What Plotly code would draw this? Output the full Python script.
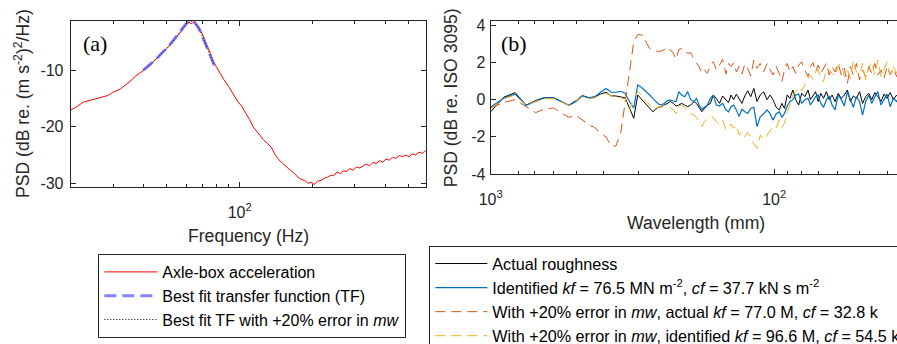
import plotly.graph_objects as go

# ---------------- Panel (a) data ----------------
freq_hz = [20, 21, 22.5, 24, 25.5, 27, 28.5, 30, 32, 34,
           35.5, 37, 38.5, 40, 42, 44, 46, 48, 50, 52,
           54, 56, 58, 60, 61.5, 63, 64.5, 66, 68, 70,
           72, 74, 76, 78, 80, 83, 86, 90, 94, 98,
           102, 106, 110, 114, 118, 122, 126, 130, 135, 140,
           145, 150, 156, 162, 168, 174, 180, 186, 192, 198,
           204, 210, 217, 224, 231, 238, 245, 253, 261, 269,
           277, 286, 295, 304, 314, 324, 334, 345, 356, 367,
           379, 391, 403, 416, 429, 443, 457, 472, 487, 502,
           518, 535, 552, 570, 588]
axlebox_db = [-17.05, -16.6, -15.7, -15.35, -15.1, -14.85, -14.5, -13.9, -13.4, -12.5,
              -11.9, -11.1, -10.6, -10.1, -9.3, -8.5, -7.8, -7.0, -6.2, -5.4,
              -4.6, -3.8, -2.9, -2.0, -1.5, -1.85, -1.55, -1.9, -2.6, -3.6,
              -4.9, -6.1, -7.4, -8.5, -9.4, -10.6, -11.7, -12.9, -14.3, -15.5,
              -16.4, -17.5, -18.8, -20.1, -20.9, -21.7, -22.4, -22.9, -23.6, -24.9,
              -25.8, -26.4, -27.1, -27.7, -28.2, -28.9, -29.3, -29.5, -30.0, -29.8,
              -30.2, -29.6, -29.5, -29.1, -28.9, -28.6, -28.6, -28.0, -28.3, -27.8,
              -27.9, -27.4, -27.7, -27.1, -27.3, -26.9, -26.6, -26.9, -26.3, -26.5,
              -26.0, -26.3, -25.7, -25.9, -25.4, -25.6, -25.1, -25.3, -25.0, -25.3,
              -24.8, -25.0, -24.5, -24.7, -24.2]
fit_freq_hz = [40, 42, 44, 46, 48, 50, 52, 54, 56, 58, 60, 62, 63.5, 65, 67, 69, 71, 73, 75, 77, 78.5]
tf_fit_db = [-10.0, -9.3, -8.5, -7.7, -6.9, -6.1, -5.3, -4.4, -3.5, -2.6, -1.85,
             -1.4, -1.35, -1.55, -2.3, -3.3, -4.5, -5.8, -7.1, -8.3, -9.2]
tf_err_db = [-10.05, -9.35, -8.55, -7.75, -6.95, -6.15, -5.35, -4.45, -3.55, -2.65, -1.9,
             -1.45, -1.4, -1.6, -2.35, -3.35, -4.55, -5.85, -7.15, -8.35, -9.25]

# ---------------- Panel (b) data ----------------
wavelength_mm = [1000, 900, 820, 750, 695, 645, 600, 565, 530, 500, 475, 450, 430, 410, 392, 376, 362, 348, 336, 324, 313, 303,
                 296, 289, 282, 275, 268, 262, 256, 250, 244, 238,
                 232, 227, 222, 217, 212, 207, 202, 197, 192, 188,
                 184, 180, 176, 172, 168, 164, 160, 156, 152, 148,
                 145, 142, 139, 136, 133, 130, 127, 124, 121, 118,
                 115, 112, 109, 106, 103.5, 101, 98.5, 96, 94, 92,
                 90, 88, 86, 84, 82, 80, 78, 76, 74.5, 73,
                 71.5, 70, 68.5, 67, 65.5, 64, 62.5, 61, 59.5, 58,
                 56.6, 55.2, 53.9, 52.6, 51.3, 50, 48.8, 47.6, 46.4, 45.3,
                 44.2, 43.1, 42, 41, 40, 39, 38, 37, 36.2, 35.4]
actual_rough = [-0.65, 0.13, 0.38, -0.3, -0.05, 0.12, 0.1, -0.1, -0.3, -0.05, 0.22, 0.1, 0.15, 0.3, 0.4, 0.2, 0.2, 0.15, 0.1, -0.45, -1.0, 0.25,
                0.07, -0.1, -0.29, -0.47, -0.65, -0.52, -0.41, -0.38, -0.29, -0.2,
                -0.1, -0.2, -0.34, -0.29, -0.2, -0.29, -0.38, -0.29, -0.1, -0.2,
                -0.4, -0.65, -0.47, -0.29, -0.2, 0.25, 0.07, -0.2, 0.2, 0.02,
                -0.16, 0.25, 0.0, 0.3, 0.02, -0.2, 0.2, 0.48, 0.16, 0.6,
                -0.1, 0.25, 0.43, 0.0, 0.25, 0.0, -0.4, -0.55, -0.2, -0.47,
                0.25, 0.07, 0.52, 0.0, -0.29, 0.34, 0.16, 0.52, 0.0, 0.25,
                0.43, -0.1, 0.34, 0.07, 0.43, 0.0, 0.25, -0.1, 0.34, 0.07,
                0.25, 0.52, -0.1, 0.2, 0.07, 0.43, -0.2, 0.16, 0.34, 0.0,
                0.38, 0.16, -0.1, 0.3, 0.07, 0.38, 0.0, 0.25, 0.1, 0.2]
identified = [-0.4, 0.07, 0.3, -0.3, -0.1, 0.1, 0.1, -0.1, -0.3, -0.1, 0.2, 0.1, 0.15, 0.4, 0.6, 0.4, 0.4, 0.45, 0.35, -0.1, -0.45, 0.79,
              0.7, 0.56, 0.43, 0.25, 0.07, -0.1, -0.23, -0.29, -0.2, -0.05,
              -0.02, -0.07, -0.1, 0.43, 0.25, 0.16, 0.43, 0.0, -0.1, 0.07,
              -0.29, -0.52, -0.41, -0.29, 0.07, 0.25, -0.29, -0.34, -0.2, -0.55,
              -0.65, -0.38, -0.29, -0.55, -0.91, -0.52, -0.65, -0.74, -0.47, -0.41,
              -1.45, -0.91, -0.77, -0.55, -0.74, -1.1, -0.77, -0.65, -0.95, -0.74,
              -0.34, -0.1, 0.0, 0.25, 0.3, -0.2, 0.0, 0.07, -0.29, -0.1,
              0.16, 0.25, -0.2, -0.41, 0.0, 0.2, -0.29, -0.55, 0.25, 0.0,
              -0.34, 0.43, 0.0, -0.41, 0.16, -0.1, -0.83, -0.1, 0.25, -0.2,
              0.16, 0.43, -0.29, 0.0, 0.3, -0.38, 0.07, -0.1, 0.1, -0.2]
err_actual = [-0.45, -0.15, 0.0, -0.4, -0.7, -0.5, -0.45, -0.7, -0.95, -0.85, -1.1, -1.35, -1.5, -1.8, -2.0, -2.5, -2.5, -1.8, -0.2, 1.5, 3.1, 3.5,
              3.5, 3.45, 3.03, 2.76, 2.7, 2.64, 2.58, 2.62, 2.7, 2.85,
              2.67, 2.5, 2.17, 2.7, 2.76, 2.58, 2.5, 2.53, 2.17, 1.95,
              1.78, 1.42, 1.6, 1.42, 1.86, 2.04, 1.6, 1.86, 2.17, 1.38,
              1.95, 1.78, 1.99, 1.5, 1.78, 1.38, 1.92, 1.69, 1.27, 2.13,
              1.69, 1.95, 1.5, 1.95, 1.63, 1.33, 1.78, 1.42, 0.97, 1.6,
              1.95, 1.5, 1.78, 1.42, 1.86, 2.04, 1.6, 1.24, 1.78, 1.99,
              1.5, 1.86, 1.42, 1.69, 1.95, 1.33, 1.78, 1.5, 1.95, 1.33,
              1.69, 0.88, 1.78, 1.33, 1.95, 1.06, 1.6, 1.24, 1.78, 1.42,
              1.95, 1.33, 1.6, 1.15, 1.78, 1.33, 1.69, 1.24, 1.6, 1.3]
err_identified = [-0.5, 0.05, 0.25, -0.3, -0.1, 0.05, 0.05, -0.1, -0.3, -0.05, 0.15, 0.05, 0.1, 0.25, 0.35, 0.2, 0.15, 0.1, 0.05, -0.55, 0.07, 0.43,
                  0.3, 0.02, -0.1, -0.29, -0.52, -0.47, -0.41, -0.34, -0.29, -0.29,
                  -0.41, -0.55, -0.74, -0.34, -0.29, -0.41, -0.55, -0.74, -0.83, -0.95,
                  -1.18, -1.45, -1.18, -1.06, -0.91, -0.95, -1.18, -1.31, -1.09, -1.63,
                  -1.45, -1.31, -1.54, -1.36, -1.9, -1.72, -1.99, -1.77, -2.08, -2.39,
                  -2.62, -1.9, -2.17, -1.9, -1.72, -1.45, -1.54, -1.09, -1.49, -1.27,
                  -0.65, -0.29, 0.25, 0.43, 0.7, 0.48, 0.79, 1.15, 1.33, 1.09,
                  1.5, 1.6, 1.15, 0.97, 1.69, 1.6, 1.42, 1.24, 1.86, 1.95,
                  1.24, 1.6, 1.15, 2.13, 1.5, 1.33, 1.95, 1.06, 1.69, 2.04,
                  1.33, 2.13, 1.24, 1.6, 2.04, 1.33, 1.78, 1.42, 1.8, 1.5]

# tick labels
a_x_ticks = [100]
a_x_ticktext = ["10<sup>2</sup>"]
a_x_minor = [30, 40, 50, 60, 70, 80, 90, 200, 300, 400, 500]
a_y_ticks = [-30, -20, -10]
a_y_ticktext = ["-30", "-20", "-10"]
b_x_ticks = [1000, 100]
b_x_ticktext = ["10<sup>3</sup>", "10<sup>2</sup>"]
b_x_minor = [800, 700, 600, 500, 400, 300, 200, 90, 80, 70, 60, 50, 40]
b_y_ticks = [-4, -2, 0, 2, 4]
b_y_ticktext = ["-4", "-2", "0", "2", "4"]

W, H = 897, 344
def px(x): return x / W
def py(y): return 1 - y / H

SANS = "Liberation Sans, Arial, sans-serif"
SERIF = "Liberation Serif, Times New Roman, serif"
AXC = "#262626"

fig = go.Figure()
fig.add_trace(go.Scatter(x=freq_hz, y=axlebox_db, mode="lines", name="Axle-box acceleration",
                         line=dict(color="#FF0000", width=1), xaxis="x", yaxis="y", legend="legend"))
fig.add_trace(go.Scatter(x=fit_freq_hz, y=tf_fit_db, mode="lines", name="Best fit transfer function (TF)",
                         line=dict(color="rgba(110,110,255,0.85)", width=3, dash="12px,6px"), xaxis="x", yaxis="y", legend="legend"))
fig.add_trace(go.Scatter(x=fit_freq_hz, y=tf_err_db, mode="lines", name="Best fit TF with +20% error in <i>mw</i>",
                         line=dict(color="#000000", width=1, dash="1px,2px"), xaxis="x", yaxis="y", legend="legend"))

fig.add_trace(go.Scatter(x=wavelength_mm, y=actual_rough, mode="lines", name="Actual roughness",
                         line=dict(color="#000000", width=1), xaxis="x2", yaxis="y2", legend="legend2"))
fig.add_trace(go.Scatter(x=wavelength_mm, y=identified, mode="lines",
                         name="Identified <i>kf</i> = 76.5 MN m<sup>-2</sup>, <i>cf</i> = 37.7 kN s m<sup>-2</sup>",
                         line=dict(color="#0072BD", width=1.2), xaxis="x2", yaxis="y2", legend="legend2"))
fig.add_trace(go.Scatter(x=wavelength_mm, y=err_actual, mode="lines",
                         name="With +20% error in <i>mw</i>, actual <i>kf</i> = 77.0 M, <i>cf</i> = 32.8 k",
                         line=dict(color="#D95319", width=1, dash="10px,6px"), xaxis="x2", yaxis="y2", legend="legend2"))
fig.add_trace(go.Scatter(x=wavelength_mm, y=err_identified, mode="lines",
                         name="With +20% error in <i>mw</i>, identified <i>kf</i> = 96.6 M, <i>cf</i> = 54.5 k",
                         line=dict(color="#EDB120", width=1, dash="10px,6px"), xaxis="x2", yaxis="y2", legend="legend2"))

tickfont = dict(family=SANS, size=16, color=AXC)
common = dict(showline=True, linecolor=AXC, linewidth=1, ticks="inside", ticklen=5, tickcolor=AXC,
              tickwidth=1, showgrid=False, zeroline=False, tickfont=tickfont)

fig.update_layout(
    width=W, height=H,
    margin=dict(l=0, r=0, t=0, b=0, autoexpand=False),
    paper_bgcolor="white", plot_bgcolor="white",
    xaxis=dict(type="log", domain=[px(70.7), px(426)], range=[1.30103, 2.7709], anchor="y",
               mirror="ticks", tickmode="array", tickvals=a_x_ticks, ticktext=a_x_ticktext,
               ticklabelstandoff=10,
               minor=dict(tickmode="array", tickvals=a_x_minor, ticks="inside", ticklen=3, tickcolor=AXC),
               **common),
    yaxis=dict(domain=[py(187.3), py(20.7)], range=[-30.7, -1.3], anchor="x", mirror="ticks",
               tickmode="array", tickvals=a_y_ticks, ticktext=a_y_ticktext, ticklabelstandoff=3,
               **common),
    xaxis2=dict(type="log", domain=[px(490.7), 1.0], range=[3, 1.567], anchor="y2",
                mirror="ticks", tickmode="array", tickvals=b_x_ticks, ticktext=b_x_ticktext,
                ticklabelstandoff=11,
                minor=dict(tickmode="array", tickvals=b_x_minor, ticks="inside", ticklen=3, tickcolor=AXC),
                **common),
    yaxis2=dict(domain=[py(174), py(20.7)], range=[-4, 4.25], anchor="x2", mirror=False,
                tickmode="array", tickvals=b_y_ticks, ticktext=b_y_ticktext, ticklabelstandoff=1,
                **common),
    legend=dict(x=px(98.3), y=py(254), xanchor="left", yanchor="top", bgcolor="white",
                bordercolor=AXC, borderwidth=1, itemwidth=53,
                font=dict(family=SANS, size=16, color="#000000")),
    legend2=dict(x=px(429.3), y=py(245.5), xanchor="left", yanchor="top", bgcolor="white",
                 bordercolor=AXC, borderwidth=1, itemwidth=52,
                 font=dict(family=SANS, size=16.2, color="#000000")),
    showlegend=True,
)

title_font = dict(family=SANS, size=17.6, color=AXC)
annotations = [
    dict(text="PSD (dB re. (m s<sup>-2</sup>)<sup>2</sup>/Hz)", x=px(22), y=py(104), textangle=-90),
    dict(text="Frequency (Hz)", x=px(249), y=py(236), textangle=0),
    dict(text="PSD (dB re. ISO 3095)", x=px(451), y=py(97.3), textangle=-90),
    dict(text="Wavelength (mm)", x=px(695.8), y=py(223), textangle=0),
]
for a in annotations:
    fig.add_annotation(xref="paper", yref="paper", xanchor="center", yanchor="middle",
                       showarrow=False, font=title_font, **a)
fig.add_annotation(text="(a)", xref="paper", yref="paper", x=px(81), y=py(43), xanchor="left",
                   yanchor="middle", showarrow=False, font=dict(family=SERIF, size=22, color="#000000"))
fig.add_annotation(text="(b)", xref="paper", yref="paper", x=px(499), y=py(43), xanchor="left",
                   yanchor="middle", showarrow=False, font=dict(family=SERIF, size=22, color="#000000"))

fig.write_html("out.html", config={"displayModeBar": False},
               post_script="document.body.style.margin='0px';document.body.style.overflow='hidden';")
